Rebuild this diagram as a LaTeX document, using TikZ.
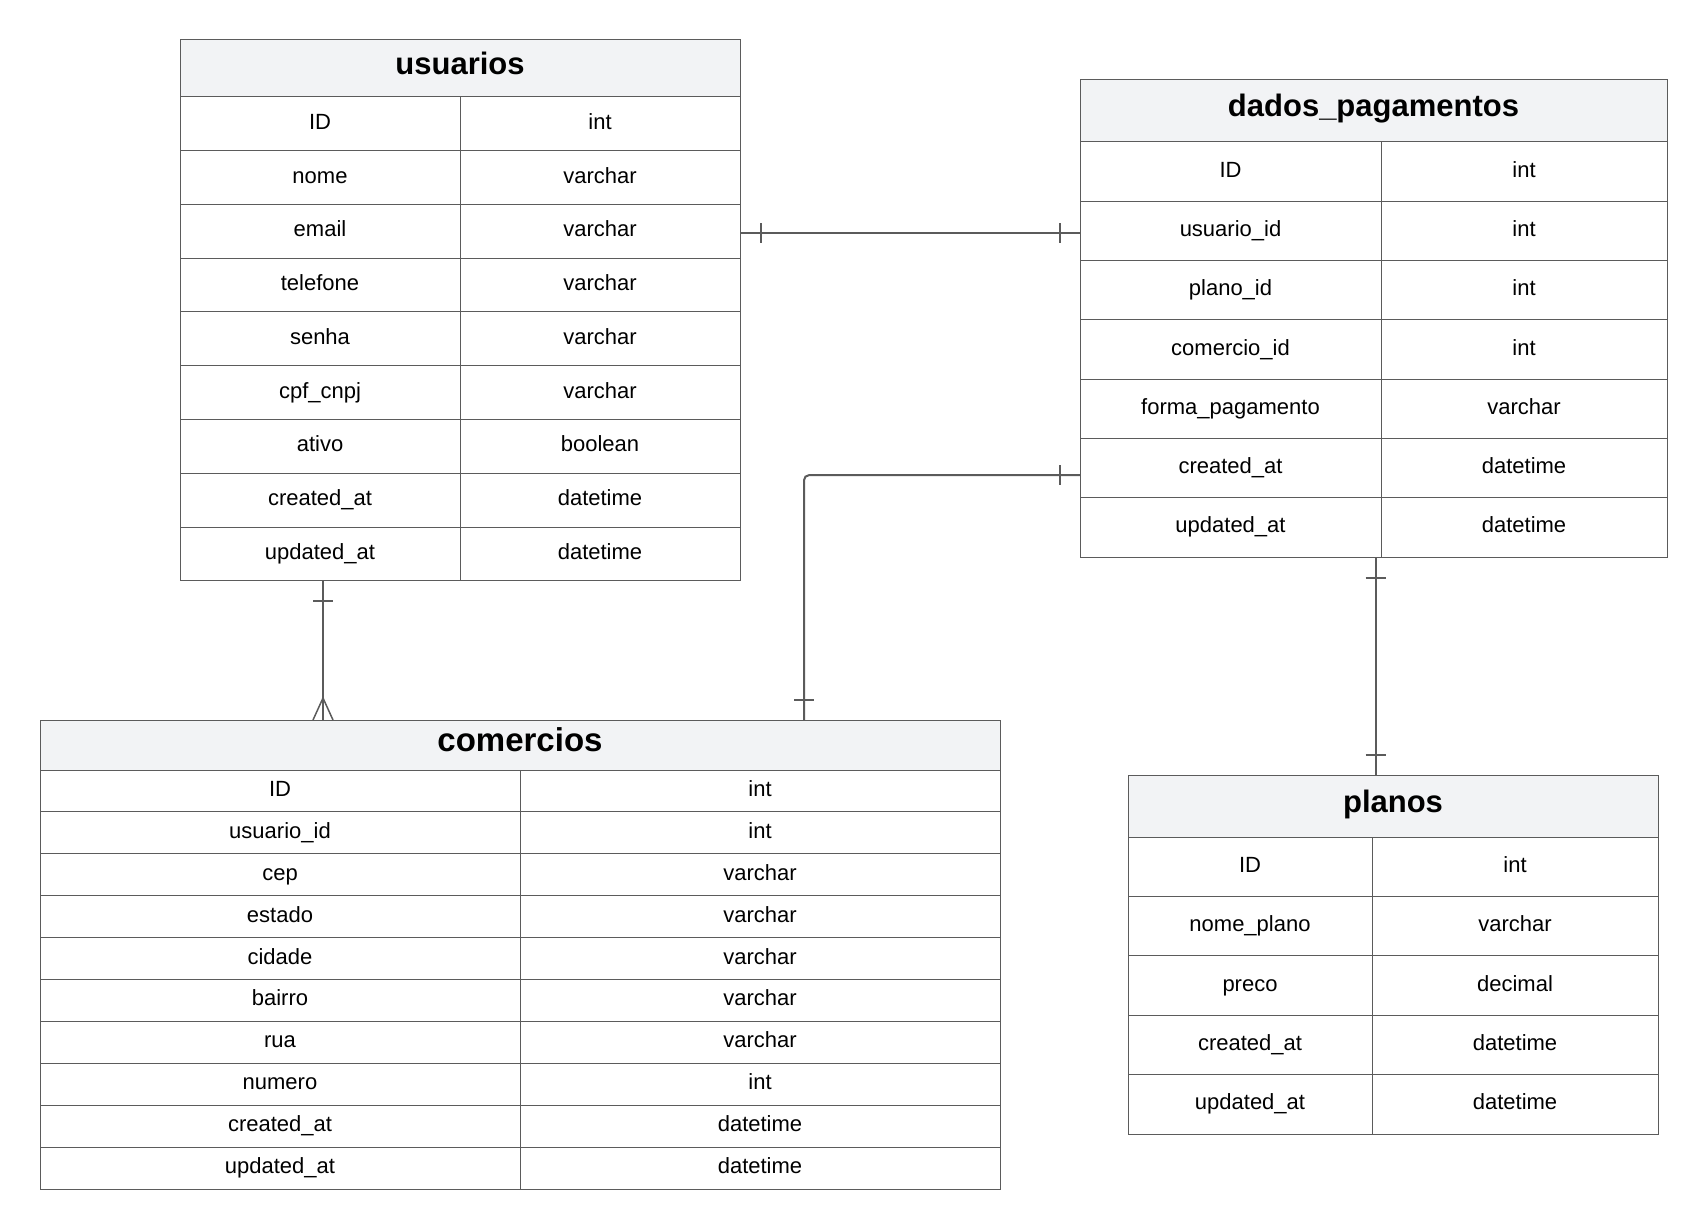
\documentclass[tikz,border=0pt]{standalone}
\usepackage{fontspec}
\setmainfont{Liberation Sans}
\usetikzlibrary{decorations.markings}

\definecolor{linegray}{HTML}{5B5B5B}
\definecolor{headfill}{HTML}{F2F3F5}

\begin{document}
\begin{tikzpicture}[x=1pt,y=-1pt,
  tabhead/.style={draw=linegray,fill=headfill,line width=1pt,inner sep=0pt,outer sep=0pt,anchor=north west,text height=22pt,text depth=10pt,font=\bfseries\fontsize{31}{36}\selectfont},
  cell/.style={draw=linegray,line width=1pt,inner sep=0pt,outer sep=0pt,anchor=north west,text height=16pt,text depth=5pt,font=\fontsize{22}{26}\selectfont},
  rel/.style={draw=linegray,line width=2pt},
  one start/.style={postaction={decorate,decoration={markings,mark=at position 20.5pt with {\draw[rel] (0pt,-10pt) -- (0pt,10pt);}}}},
  one end/.style={postaction={decorate,decoration={markings,mark=at position -20.5pt with {\draw[rel] (0pt,-10pt) -- (0pt,10pt);}}}},
  many end/.style={postaction={decorate,decoration={markings,mark=at position -22pt with {\draw[rel,line width=1.5pt] (0pt,0pt) -- (22pt,10pt) (0pt,0pt) -- (22pt,-10pt);}}}}
]
\useasboundingbox (0,0) rectangle (1707,1230);

% usuarios
\node[tabhead,minimum width=560pt,minimum height=57pt] (usuarios) at (180,40) {usuarios};
\foreach \f/\t [count=\i from 0] in {ID/int,nome/varchar,email/varchar,telefone/varchar,senha/varchar,cpf\_cnpj/varchar,ativo/boolean,created\_at/datetime,updated\_at/datetime}{
  \node[cell,minimum width=280pt,minimum height=53.75pt] (u-f\i) at (180,97+53.75*\i) {\f};
  \node[cell,minimum width=280pt,minimum height=53.75pt] (u-t\i) at (u-f\i.north east) {\t};
}

% dados_pagamentos
\node[tabhead,minimum width=587pt,minimum height=62pt] (dados) at (1080,80) {dados\_pagamentos};
\foreach \f/\t [count=\i from 0] in {ID/int,usuario\_id/int,plano\_id/int,comercio\_id/int,forma\_pagamento/varchar,created\_at/datetime,updated\_at/datetime}{
  \node[cell,minimum width=301pt,minimum height=59.3pt] (d-f\i) at (1080,142+59.3*\i) {\f};
  \node[cell,minimum width=286pt,minimum height=59.3pt] (d-t\i) at (d-f\i.north east) {\t};
}

% comercios
\node[tabhead,minimum width=960pt,minimum height=50pt,text height=23pt,text depth=10pt,font=\bfseries\fontsize{33}{38}\selectfont] (comercios) at (40,720) {comercios};
\foreach \f/\t [count=\i from 0] in {ID/int,usuario\_id/int,cep/varchar,estado/varchar,cidade/varchar,bairro/varchar,rua/varchar,numero/int,created\_at/datetime,updated\_at/datetime}{
  \node[cell,minimum width=480pt,minimum height=41.9pt] (c-f\i) at (40,770+41.9*\i) {\f};
  \node[cell,minimum width=480pt,minimum height=41.9pt] (c-t\i) at (c-f\i.north east) {\t};
}

% planos
\node[tabhead,minimum width=530pt,minimum height=62pt] (planos) at (1128,775) {planos};
\foreach \f/\t [count=\i from 0] in {ID/int,nome\_plano/varchar,preco/decimal,created\_at/datetime,updated\_at/datetime}{
  \node[cell,minimum width=244pt,minimum height=59.4pt] (p-f\i) at (1128,837+59.4*\i) {\f};
  \node[cell,minimum width=286pt,minimum height=59.4pt] (p-t\i) at (p-f\i.north east) {\t};
}

% relations
\draw[rel,one start,one end] ([yshift=-1.5pt]u-t2.east) -- ([yshift=-1.5pt]u-t2.east -| d-f1.west);
\draw[rel,one start,many end] ([xshift=3pt]u-f8.south) -- ([xshift=3pt]u-f8.south |- comercios.north);
\draw[rel,one start,one end,rounded corners=5pt] ([yshift=-7pt]d-f5.west) -| ([xshift=284pt]comercios.north);
\draw[rel,one start,one end] ([xshift=-5.5pt]d-f6.south east) -- ([xshift=-5.5pt]d-f6.south east |- planos.north);
\end{tikzpicture}
\end{document}
